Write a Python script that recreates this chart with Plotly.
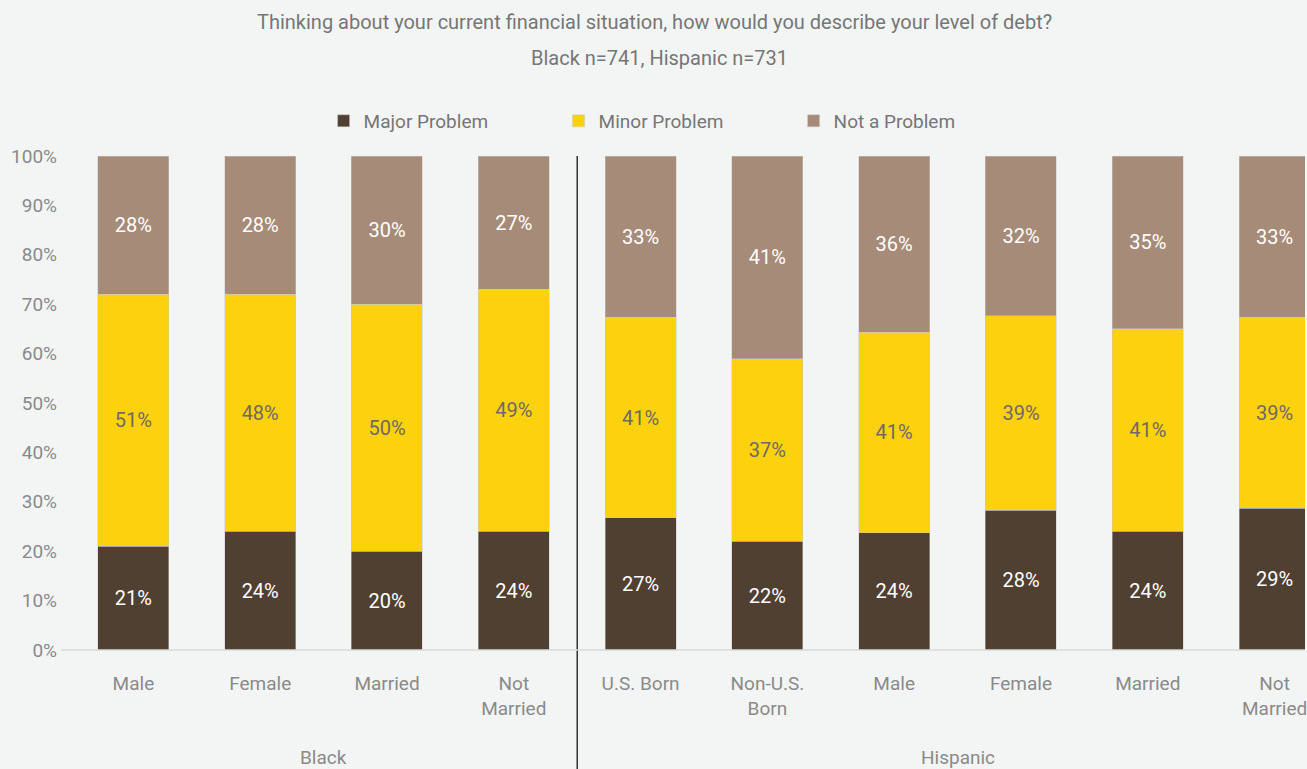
import plotly.graph_objects as go

# Survey responses (percent of respondents) per subgroup
groups = ["Black", "Hispanic"]
group_sizes = [4, 6]
categories = ["Male", "Female", "Married", "Not<br>Married",
              "U.S. Born", "Non-U.S.<br>Born", "Male", "Female", "Married", "Not<br>Married"]
major_problem = [21, 24, 20, 24, 27, 22, 24, 28, 24, 29]
minor_problem = [51, 48, 50, 49, 41, 37, 41, 39, 41, 39]
not_a_problem = [28, 28, 30, 27, 33, 41, 36, 32, 35, 33]
y_ticks = [0, 10, 20, 30, 40, 50, 60, 70, 80, 90, 100]

title_line1 = "Thinking about your current financial situation, how would you describe your level of debt?"
title_line2 = "Black n=741, Hispanic n=731"

FONT = "Roboto"
BG = "#F3F5F4"
W, H = 1307, 769
ML, MR, MT, MB = 70, 0, 156, 119
X_MIN, X_MAX = -0.5, 9.24

x_pos = list(range(len(categories)))

series = [
    ("Major Problem", major_problem, "#504032", "#FFFFFF"),
    ("Minor Problem", minor_problem, "#FCD10D", "#6E6A64"),
    ("Not a Problem", not_a_problem, "#A58B78", "#FFFFFF"),
]

fig = go.Figure()
for name, vals, color, txtcolor in series:
    fig.add_trace(go.Bar(
        name=name,
        x=x_pos,
        y=vals,
        text=[f"{v}%" for v in vals],
        textposition="inside",
        insidetextanchor="middle",
        textangle=0,
        constraintext="none",
        textfont=dict(family=FONT, size=20, color=txtcolor),
        marker=dict(color=color, line=dict(width=0.6, color="rgba(200,200,200,0.8)")),
        hoverinfo="skip",
    ))

plot_w = W - ML - MR
plot_h = H - MT - MB


def px_to_paper_x(px):
    return (px - ML) / plot_w


def px_to_paper_y(py):
    return (H - MB - py) / plot_h


# divider between the two groups
split = group_sizes[0] - 0.5
split_paper = (split - X_MIN) / (X_MAX - X_MIN)
fig.add_shape(type="line", xref="paper", yref="paper",
              x0=split_paper, x1=split_paper, y0=1.0, y1=px_to_paper_y(H + 5),
              line=dict(color="#000000", width=1.2), layer="above")

# baseline
fig.add_shape(type="line", xref="paper", yref="paper",
              x0=px_to_paper_x(61), x1=1.0, y0=0, y1=0,
              line=dict(color="#D9D9D9", width=1.5), layer="above")

# group labels
start = 0
for g, n in zip(groups, group_sizes):
    center = start + (n - 1) / 2
    fig.add_annotation(x=center, xref="x", y=px_to_paper_y(757), yref="paper",
                       text=g, showarrow=False, yanchor="middle",
                       font=dict(family=FONT, size=19, color="#8A8A8A"))
    start += n

# title lines
fig.add_annotation(x=px_to_paper_x(655), xref="paper", y=px_to_paper_y(22), yref="paper",
                   text=title_line1, showarrow=False, xanchor="center", yanchor="middle",
                   font=dict(family=FONT, size=20, color="#767676"))
fig.add_annotation(x=px_to_paper_x(660), xref="paper", y=px_to_paper_y(58), yref="paper",
                   text=title_line2, showarrow=False, xanchor="center", yanchor="middle",
                   font=dict(family=FONT, size=20, color="#767676"))

fig.update_layout(
    width=W, height=H,
    margin=dict(l=ML, r=MR, t=MT, b=MB, pad=0),
    paper_bgcolor=BG, plot_bgcolor=BG,
    barmode="stack", barnorm="percent", bargap=0.44,
    font=dict(family=FONT, size=19, color="#8A8A8A"),
    showlegend=True,
    legend=dict(orientation="h", x=px_to_paper_x(324), xanchor="left",
                y=px_to_paper_y(121), yanchor="middle",
                font=dict(family=FONT, size=19, color="#767676"),
                entrywidth=190, bgcolor="rgba(0,0,0,0)", traceorder="normal"),
    xaxis=dict(range=[X_MIN, X_MAX], tickvals=x_pos, ticktext=categories,
               showgrid=False, zeroline=False, showline=False, ticks="",
               ticklabelstandoff=20, ticklabeloverflow="allow",
               tickfont=dict(family=FONT, size=19, color="#8A8A8A"), fixedrange=True),
    yaxis=dict(range=[0, 100], tickvals=y_ticks, ticktext=[f"{t}%" for t in y_ticks],
               showgrid=False, zeroline=False, showline=False, ticks="",
               ticklabelstandoff=12,
               tickfont=dict(family=FONT, size=19, color="#8A8A8A"), fixedrange=True),
)

fig.write_html("out.html")
